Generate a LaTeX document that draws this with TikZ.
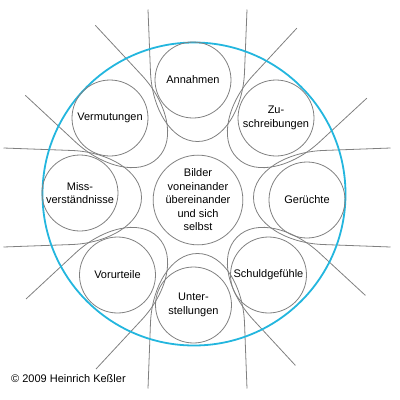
\documentclass[tikz,border=0pt]{standalone}
\usepackage{fontspec}
\setmainfont{Liberation Sans}
\definecolor{linegray}{RGB}{128,128,128}
\definecolor{ringcyan}{RGB}{35,182,222}
\tikzset{
  ln/.style={draw=linegray, line width=0.8pt},
  bub/.style={circle, draw=linegray, line width=0.8pt, minimum size=76pt, inner sep=0pt, align=center, font=\fontsize{11}{13.5}\selectfont},
  lbl/.style={font=\fontsize{11}{13.5}\selectfont, inner sep=0pt}
}
\newcommand\ushape[2]{%
  \begin{scope}[shift={(197.5,197.5)}, rotate=#1]
    \draw[ln] (#2,49.5) -- (125,47) .. controls (90,45.5) and (56,27) .. (56,0)
      .. controls (56,-27) and (90,-45.5) .. (125,-47) -- (#2,-49.5);
  \end{scope}}
\begin{document}
\begin{tikzpicture}[x=1pt, y=-1pt]
  \useasboundingbox (0,0) rectangle (400,400);
  % hairpin curves
  \ushape{90}{188}
  \ushape{45}{190}
  \ushape{0}{193}
  \ushape{-45}{188}
  \ushape{-90}{191}
  \ushape{-135}{193}
  \ushape{180}{194}
  \ushape{135}{194}
  % big ring
  \node[circle, draw=ringcyan, line width=1.8pt, minimum size=303pt, inner sep=0pt] (ring) at (194,194) {};
  % circles
  \node[bub, minimum size=84pt] (mid) at (198,200) {Bilder\\voneinander\\übereinander\\und sich\\selbst};
  \node[bub] (ann) at (193,80) {Annahmen};
  \node[bub] (zu) at (276,118) {Zu-\\schreibungen};
  \node[bub] (ger) at (307,200) {Gerüchte};
  \node[bub] (sch) at (268.5,275) {Schuldgefühle};
  \node[bub] (unt) at (193.5,305) {Unter-\\stellungen};
  \node[bub] (vor) at (117.5,275) {Vorurteile};
  \node[bub] (mis) at (80,193) {Miss-\\verständnisse};
  \node[bub] (ver) at (110,118) {Vermutungen};
  % copyright
  \node[lbl, anchor=west] (copy) at (11,379) {© 2009 Heinrich Keßler};
\end{tikzpicture}
\end{document}
